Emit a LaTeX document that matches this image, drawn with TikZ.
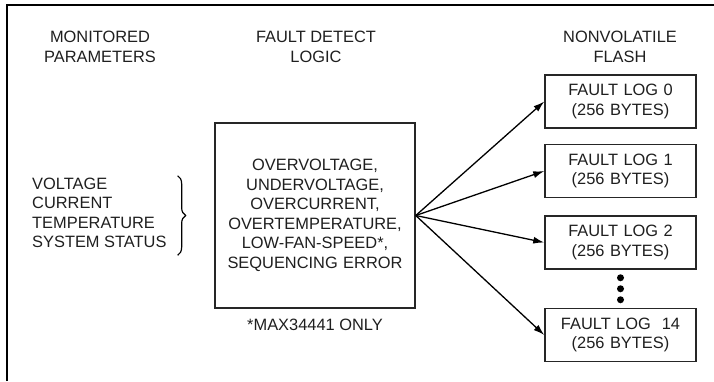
\documentclass[tikz,border=0pt]{standalone}
\usepackage{fontspec}
\setmainfont{Liberation Sans}
\usepackage{tikz}
\usetikzlibrary{positioning}
\usetikzlibrary{shapes,arrows.meta,decorations.pathreplacing}
\tikzstyle{block} = [rectangle, draw=black!85, line width=1.5pt, fill=white,
text width=145pt, align=center, minimum width=151pt, minimum height=53pt, inner sep=0pt]
\tikzstyle{line} = [draw, line width=1.3pt, -{Latex[length=11pt,width=7pt]}]
\tikzstyle{head} = [align=center]

\begin{document}
\begin{tikzpicture}[x=1pt, y=-1pt, font=\fontsize{16.4}{19.5}\selectfont, text=black!88]
\useasboundingbox (0,0) rectangle (714,381);
\draw [line width=2pt] (7,381) -- (7,5) -- (714,5);
    % nodes
\node [head] (mp) at (100,47) {MONITORED\\PARAMETERS};
\node [head] (fdlh) at (316,47) {FAULT DETECT\\LOGIC};
\node [head] (nvf) at (620,47) {NONVOLATILE\\FLASH};
\node [align=left, anchor=west, inner sep=0pt] (prm) at (32,213) {VOLTAGE\\CURRENT\\TEMPERATURE\\SYSTEM STATUS};
\node [block, text width=192pt, minimum width=200pt, minimum height=185pt] (fdl) at (315,215.5)
  {OVERVOLTAGE,\\UNDERVOLTAGE,\\OVERCURRENT,\\OVERTEMPERATURE,\\LOW-FAN-SPEED*,\\SEQUENCING ERROR};
\node [below=7pt of fdl] (max) {*MAX34441 ONLY};
\node [block] (fl0) at (620.5,101.5) {FAULT LOG 0\\(256 BYTES)};
\node [block, below=15pt of fl0] (fl1) {FAULT LOG 1\\(256 BYTES)};
\node [block, below=17pt of fl1] (fl2) {FAULT LOG 2\\(256 BYTES)};
\node [block, below=38pt of fl2] (fl14) {FAULT LOG\ \ 14\\(256 BYTES)};

% brace and dots
\draw [decorate, decoration={brace, amplitude=8pt}, line width=1.2pt]
  ([xshift=11pt, yshift=2pt]prm.north east) -- ([xshift=11pt, yshift=-7pt]prm.south east);
\foreach \d in {8,19,30} \fill ([yshift=-\d pt]fl2.south) circle (3.5pt);

%edges
\path [line] (fdl.east) -- (fl0.west);
\path [line] (fdl.east) -- (fl1.west);
\path [line] (fdl.east) -- (fl2.west);
\path [line] (fdl.east) -- (fl14.west);
\end{tikzpicture}
\end{document}
